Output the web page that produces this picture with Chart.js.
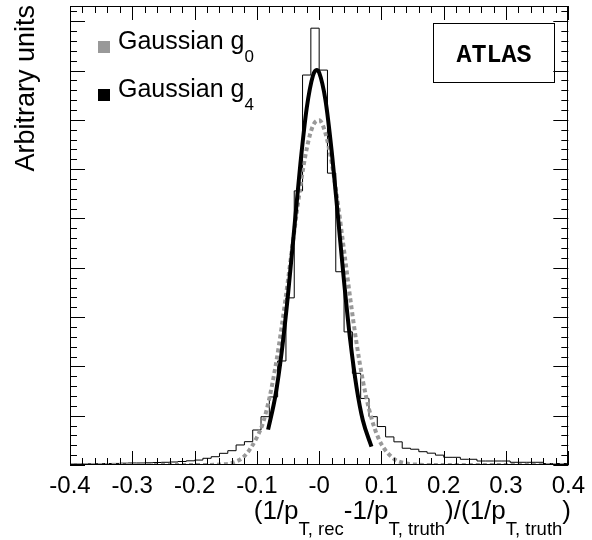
<!DOCTYPE html>
<html>
<head>
<meta charset="utf-8">
<script src="https://cdn.jsdelivr.net/npm/chart.js@4/dist/chart.umd.min.js"></script>
<style>
  html, body { margin: 0; padding: 0; background: #fff; }
  #wrap { width: 592px; height: 540px; }
</style>
</head>
<body>
<div id="wrap"><canvas id="c" width="592" height="540"></canvas></div>
<script>
// ---- data ----
const xMin = -0.4;
const xMax = 0.4;
const histCounts = [
  0.020, 0.020, 0.024, 0.026, 0.030, 0.032, 0.037, 0.041, 0.041, 0.045,
  0.051, 0.055, 0.061, 0.071, 0.085, 0.100, 0.136, 0.168, 0.237, 0.290,
  0.406, 0.473, 0.710, 0.980, 1.380, 2.110, 3.390, 5.560, 7.910, 8.860,
  8.010, 5.920, 3.920, 2.700, 1.860, 1.350, 0.980, 0.780, 0.570, 0.470,
  0.340, 0.320, 0.270, 0.240, 0.200, 0.156, 0.156, 0.116, 0.116, 0.081,
  0.081, 0.081, 0.081, 0.055, 0.055, 0.055, 0.055, 0.030, 0.030, 0.030
];
const g4X = [-0.082, -0.07, -0.06, -0.05, -0.04, -0.03, -0.02, -0.01, -0.004, 0.0, 0.01, 0.02, 0.03, 0.04, 0.05, 0.06, 0.07, 0.084];
const g4Y = [0.716, 1.423, 2.309, 3.459, 4.790, 6.126, 7.236, 7.896, 8.010, 7.959, 7.411, 6.374, 5.063, 3.716, 2.518, 1.577, 0.912, 0.371];
const g0X = [-0.4, -0.3, -0.2, -0.18, -0.16, -0.14, -0.12, -0.10, -0.09, -0.08, -0.07, -0.06, -0.05, -0.04, -0.03, -0.02, -0.01, 0.0,
             0.01, 0.02, 0.03, 0.04, 0.05, 0.06, 0.07, 0.08, 0.09, 0.10, 0.12, 0.14, 0.16, 0.18, 0.2, 0.3, 0.4];
const g0Y = [0, 0, 0, 0.001, 0.008, 0.041, 0.18, 0.56, 0.862, 1.351, 2.005, 2.818, 3.754, 4.737, 5.663, 6.413, 6.880, 6.992,
             6.733, 6.141, 5.307, 4.344, 3.369, 2.475, 1.723, 1.136, 0.710, 0.420, 0.125, 0.030, 0.006, 0.001, 0, 0, 0];
const xTickLabels = ['-0.4', '-0.3', '-0.2', '-0.1', '-0', '0.1', '0.2', '0.3', '0.4'];
const yMax = 9.31;
const legendNames = ['Gaussian g', 'Gaussian g'];
const legendSubs = ['0', '4'];
const yTitle = 'Arbitrary units';
const xTitleParts = [['(1/p', 0], ['T, rec', 1], ['-1/p', 0], ['T, truth', 1], [')/(1/p', 0], ['T, truth', 1], [')', 0]];
const tagText = 'ATLAS';

// ---- build datasets ----
const nBins = histCounts.length;
const binW = (xMax - xMin) / nBins;
const histPts = histCounts.map((v, i) => ({ x: xMin + i * binW, y: v }));
histPts.push({ x: xMax, y: histCounts[nBins - 1] });
const g4Pts = g4X.map((x, i) => ({ x: x, y: g4Y[i] }));
const g0Pts = g0X.map((x, i) => ({ x: x, y: g0Y[i] }));

const FONT = '"Liberation Sans", Arial, Helvetica, sans-serif';

const decor = {
  id: 'decor',
  afterDatasetsDraw(chart) {
    const { ctx, chartArea: a, scales } = chart;
    const xs = scales.x, ys = scales.y;
    ctx.save();
    ctx.strokeStyle = '#000';
    ctx.lineWidth = 1;
    ctx.strokeRect(Math.round(a.left) + 0.5, Math.round(a.top) + 0.5,
                   Math.round(a.right - a.left) - 1, Math.round(a.bottom - a.top) - 1);
    ctx.beginPath();
    for (let i = 0; i <= 40; i++) {
      const v = xMin + i * 0.02;
      const px = Math.round(xs.getPixelForValue(v)) + 0.5;
      const len = (i % 5 === 0) ? 14 : 7;
      ctx.moveTo(px, a.bottom); ctx.lineTo(px, a.bottom - len);
      ctx.moveTo(px, a.top); ctx.lineTo(px, a.top + len);
    }
    for (let i = 0; i * 0.2 <= yMax + 1e-9; i++) {
      const v = i * 0.2;
      const py = Math.round(ys.getPixelForValue(v)) + 0.5;
      const len = (i % 5 === 0) ? 15 : 7;
      ctx.moveTo(a.left, py); ctx.lineTo(a.left + len, py);
      ctx.moveTo(a.right, py); ctx.lineTo(a.right - len, py);
    }
    ctx.stroke();
    ctx.restore();
  },
  afterDraw(chart) {
    const { ctx } = chart;
    ctx.save();
    ctx.fillStyle = '#000';
    const legColors = ['#999999', '#000000'];
    const rowBase = [49, 97];
    for (let i = 0; i < 2; i++) {
      ctx.fillStyle = legColors[i];
      ctx.fillRect(98, rowBase[i] - 8, 12, 12);
      ctx.fillStyle = '#000';
      ctx.font = '25px ' + FONT;
      ctx.textAlign = 'left';
      ctx.textBaseline = 'alphabetic';
      ctx.fillText(legendNames[i], 118, rowBase[i]);
      const w = ctx.measureText(legendNames[i]).width;
      ctx.font = '17px ' + FONT;
      ctx.fillText(legendSubs[i], 118 + w, rowBase[i] + 13);
    }
    ctx.strokeStyle = '#000';
    ctx.lineWidth = 1;
    ctx.strokeRect(433.5, 23.5, 121, 59);
    ctx.font = 'bold 25px "Liberation Mono", "Courier New", monospace';
    ctx.textAlign = 'center';
    ctx.fillText(tagText, 494, 62);
    ctx.save();
    ctx.translate(34, 5);
    ctx.rotate(-Math.PI / 2);
    ctx.font = '27px ' + FONT;
    ctx.textAlign = 'right';
    ctx.textBaseline = 'alphabetic';
    ctx.fillText(yTitle, 0, 0);
    ctx.restore();
    const mainF = '26px ' + FONT, subF = '18.5px ' + FONT;
    let total = 0;
    const widths = xTitleParts.map(([t, s]) => {
      ctx.font = s ? subF : mainF;
      const w = ctx.measureText(t).width;
      total += w;
      return w;
    });
    let x = 571 - total;
    ctx.textAlign = 'left';
    xTitleParts.forEach(([t, s], i) => {
      ctx.font = s ? subF : mainF;
      ctx.fillText(t, x, s ? 535 : 519);
      x += widths[i];
    });
    ctx.restore();
  }
};

new Chart(document.getElementById('c'), {
  type: 'line',
  data: {
    datasets: [
      { label: 'hist', data: histPts, stepped: 'before', borderColor: '#000', borderWidth: 1,
        pointRadius: 0, fill: false, order: 3 },
      { label: 'g0', data: g0Pts, borderColor: '#999999', borderWidth: 4, borderDash: [4, 3],
        cubicInterpolationMode: 'monotone', pointRadius: 0, fill: false, order: 2 },
      { label: 'g4', data: g4Pts, borderColor: '#000', borderWidth: 4,
        cubicInterpolationMode: 'monotone', pointRadius: 0, fill: false, order: 1 }
    ]
  },
  options: {
    responsive: false,
    animation: false,
    devicePixelRatio: 1,
    layout: { padding: { left: 70, right: 21, top: 6, bottom: 0 } },
    plugins: { legend: { display: false }, tooltip: { enabled: false } },
    scales: {
      x: {
        type: 'linear', min: xMin, max: xMax,
        grid: { display: false, drawTicks: false },
        border: { display: false },
        ticks: {
          stepSize: 0.1, autoSkip: false, maxRotation: 0, padding: 7,
          color: '#000', font: { family: FONT, size: 24 },
          callback: (v, i) => xTickLabels[i]
        },
        afterFit: (s) => { s.height = 75; }
      },
      y: { type: 'linear', min: 0, max: yMax, display: false }
    }
  },
  plugins: [decor]
});
</script>
</body>
</html>
